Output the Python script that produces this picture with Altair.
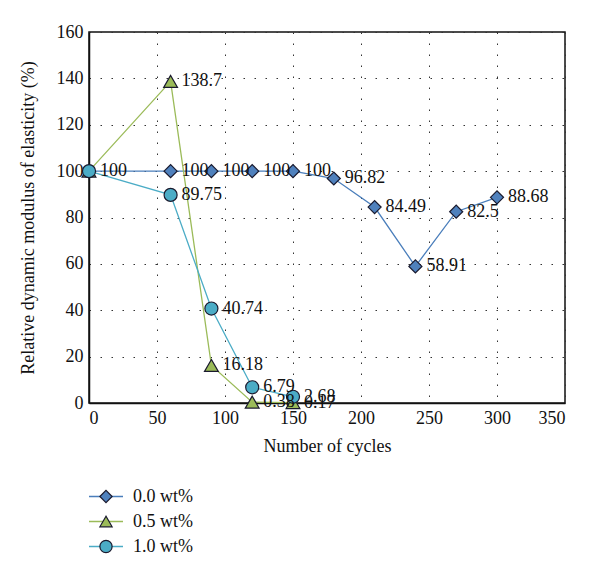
import altair as alt
import pandas as pd

series_names = ["0.0 wt%", "0.5 wt%", "1.0 wt%"]
cycles_00 = [0, 60, 90, 120, 150, 180, 210, 240, 270, 300]
values_00 = [100, 100, 100, 100, 100, 96.82, 84.49, 58.91, 82.5, 88.68]
cycles_05 = [0, 60, 90, 120, 150]
values_05 = [100, 138.7, 16.18, 0.38, 0.17]
cycles_10 = [0, 60, 90, 120, 150]
values_10 = [100, 89.75, 40.74, 6.79, 2.68]
labels_00 = ["", "100", "100", "100", "100", "96.82", "84.49", "58.91", "82.5", "88.68"]
labels_05 = ["", "138.7", "16.18", "0.38", "0.17"]
labels_10 = ["100", "89.75", "40.74", "6.79", "2.68"]

line_colors = ["#4a7ebb", "#9bbb59", "#4bacc6"]
fill_colors = ["#4f81bd", "#9bbb59", "#4bacc6"]
shapes = ["diamond", "triangle-up", "circle"]
sizes = [170, 190, 170]

FONT = "Liberation Serif"

rows = []
for i, (cx, vy, lb) in enumerate([(cycles_00, values_00, labels_00),
                                   (cycles_05, values_05, labels_05),
                                   (cycles_10, values_10, labels_10)]):
    for c, v, l in zip(cx, vy, lb):
        rows.append({"series": series_names[i], "order": i, "cycles": c, "value": v, "label": l})
df = pd.DataFrame(rows)

xscale = alt.Scale(domain=[0, 350], nice=False)
yscale = alt.Scale(domain=[0, 160], nice=False)

layers = []
for i, name in enumerate(series_names):
    sub = df[df.series == name]
    base = alt.Chart(sub).encode(
        x=alt.X("cycles:Q", scale=xscale,
                axis=alt.Axis(values=list(range(0, 351, 50)), title="Number of cycles")),
        y=alt.Y("value:Q", scale=yscale,
                axis=alt.Axis(values=list(range(0, 161, 20)), titlePadding=19,
                              title="Relative dynamic modulus of elasticity (%)")),
    )
    layers.append(base.mark_line(color=line_colors[i], strokeWidth=1.3))
for i, name in enumerate(series_names):
    sub = df[df.series == name]
    base = alt.Chart(sub).encode(x=alt.X("cycles:Q", scale=xscale), y=alt.Y("value:Q", scale=yscale))
    layers.append(base.mark_point(shape=shapes[i], filled=True, fill=fill_colors[i],
                                  stroke="#1a1a2e", strokeWidth=1.2, size=sizes[i], opacity=1))
for i, name in enumerate(series_names):
    sub = df[(df.series == name) & (df.label != "")]
    base = alt.Chart(sub).encode(x=alt.X("cycles:Q", scale=xscale), y=alt.Y("value:Q", scale=yscale),
                                 text="label:N")
    layers.append(base.mark_text(align="left", baseline="middle", dx=11, font=FONT,
                                 fontSize=18, color="#111111"))

main = alt.layer(*layers).properties(width=476, height=371)

leg_df = pd.DataFrame({"series": series_names})
leg_y = alt.Y("series:N", sort=series_names, axis=None,
              scale=alt.Scale(domain=series_names, paddingInner=0, paddingOuter=0))
leg_lines = alt.Chart(leg_df).mark_rule(strokeWidth=1.3).encode(
    y=leg_y, x=alt.value(0), x2=alt.value(34),
    color=alt.Color("series:N", scale=alt.Scale(domain=series_names, range=line_colors), legend=None))
leg_pts = alt.Chart(leg_df).mark_point(filled=True, stroke="#1a1a2e", strokeWidth=1.2,
                                       size=150, opacity=1).encode(
    y=leg_y, x=alt.value(17),
    fill=alt.Fill("series:N", scale=alt.Scale(domain=series_names, range=fill_colors), legend=None),
    shape=alt.Shape("series:N", scale=alt.Scale(domain=series_names, range=shapes), legend=None))
leg_txt = alt.Chart(leg_df).mark_text(align="left", baseline="middle", font=FONT, fontSize=18,
                                      color="#111111").encode(
    y=leg_y, x=alt.value(44), text="series:N")
legend = alt.layer(leg_lines, leg_pts, leg_txt).properties(
    width=200, height=75, view=alt.ViewConfig(stroke=None))

chart = alt.vconcat(main, legend, spacing=28).resolve_scale(
    color="independent", fill="independent", shape="independent"
).properties(
    padding={"left": 10, "top": 14, "right": 5, "bottom": 5}, background="white"
).configure_view(
    stroke="#111111", strokeWidth=1.5
).configure_axis(
    labelFont=FONT, titleFont=FONT, labelFontSize=18, titleFontSize=18,
    labelColor="#111111", titleColor="#111111", titleFontWeight="normal",
    domainColor="#111111", domainWidth=1.5, ticks=False, labelPadding=6,
    gridColor="#333333", gridDash=[1.5, 9.5], gridWidth=1, titlePadding=10,
)

chart.save("out.html", embed_options={"renderer": "svg", "actions": False})
